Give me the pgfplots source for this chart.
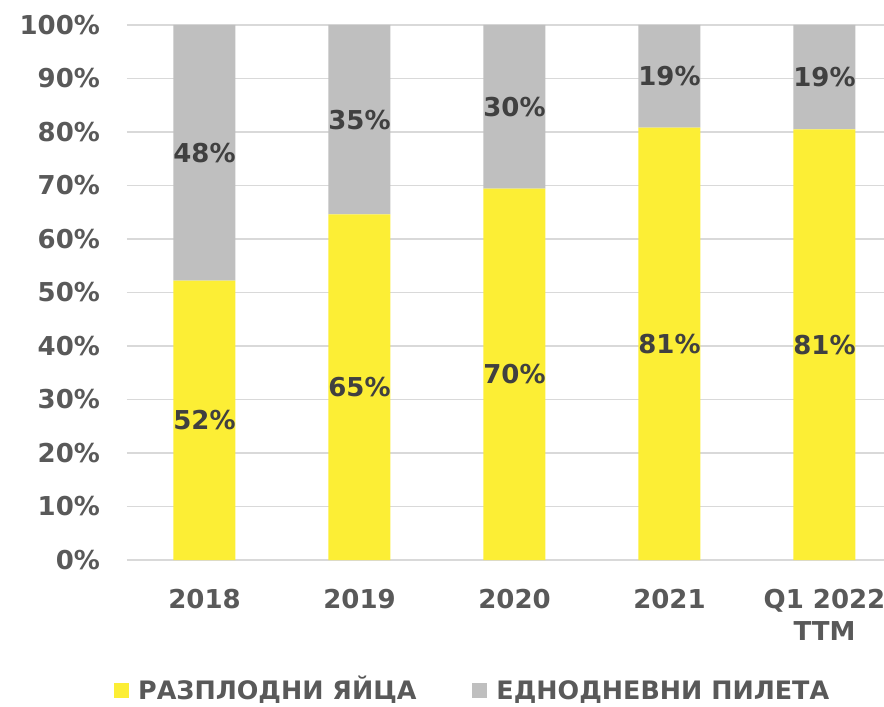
\documentclass[border=0pt]{standalone}
\usepackage{fontspec}
\setmainfont{DejaVu Sans}
\usepackage{pgfplots}
\usepackage{pgfplotstable}
\pgfplotsset{compat=1.18}

\definecolor{eggyellow}{HTML}{FCEE35}
\definecolor{chickgray}{HTML}{BFBFBF}
\definecolor{ticktext}{HTML}{595959}
\definecolor{bartext}{HTML}{404040}
\definecolor{gridgray}{HTML}{D9D9D9}

\newcommand\chartfont{\fontsize{13}{16}\selectfont\bfseries}
\newcommand\legendfont{\fontsize{12.7}{16}\selectfont\bfseries}

% share of each product line, per year
\pgfplotstableread{
x yel gry ly lg
0 52.2 47.8 52 48
1 64.6 35.4 65 35
2 69.4 30.6 70 30
3 80.8 19.2 81 19
4 80.5 19.5 81 19
}\shares

\begin{document}
\begin{tikzpicture}[font=\chartfont]
  \path[use as bounding box] (-63.5pt,-73.5pt) rectangle (378.5pt,280pt);
  \begin{axis}[
      scale only axis,
      width=378.5pt, height=267.5pt,
      ybar stacked, bar width=31pt,
      xmin=-0.5, xmax=4.384,
      ymin=0, ymax=100,
      xtick={0,...,4},
      xticklabels={2018,2019,2020,2021,{Q1 2022\\TTM}},
      xticklabel style={align=center, text=ticktext, font=\chartfont, yshift=-11pt},
      ytick={0,10,...,100},
      yticklabel={\pgfmathprintnumber{\tick}\%},
      yticklabel style={text=ticktext, font=\chartfont, xshift=-10pt},
      /pgf/number format/assume math mode=true,
      ymajorgrids, grid style={gridgray, line width=0.75pt},
      axis line style={draw=none},
      major tick length=0pt,
      nodes near coords={\pgfmathprintnumber{\pgfplotspointmeta}\%},
      point meta=explicit,
      every node near coord/.append style={font=\chartfont, text=bartext, anchor=center},
      legend columns=2,
      legend style={at={(0.458,-0.243)}, anchor=center, draw=none, fill=none,
        font=\legendfont, text=ticktext,
        nodes={text height=9.3pt, text depth=0pt},
        /tikz/every even column/.append style={column sep=26pt}},
      legend image code/.code={\fill[#1] (0pt,-3.75pt) rectangle (7.5pt,3.75pt);
        \path (10pt,0pt);},
    ]
    \addplot[fill=eggyellow, draw=none]
      table[x=x, y=yel, meta=ly] {\shares};
    \addlegendentry{РАЗПЛОДНИ ЯЙЦА}
    \addplot[fill=chickgray, draw=none]
      table[x=x, y=gry, meta=lg] {\shares};
    \addlegendentry{ЕДНОДНЕВНИ ПИЛЕТА}
  \end{axis}
\end{tikzpicture}
\end{document}
